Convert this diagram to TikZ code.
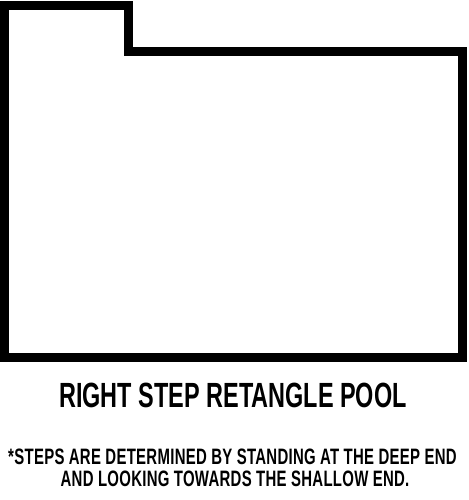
\documentclass[tikz,border=0pt]{standalone}
\usepackage{fontspec}
\setmainfont{Liberation Sans}[FakeStretch=0.67]
\usetikzlibrary{positioning}

\begin{document}
\begin{tikzpicture}[x=1pt,y=-1pt]
	\useasboundingbox (0,0) rectangle (468,500);

	% pool outline, step in the top left corner
	\draw[line width=9pt,line join=miter] (4.5,6) -- (128,6) -- (128,52) -- (462,52) -- (462,357) -- (4.5,357) -- cycle;

	\node[inner sep=0pt,font=\bfseries\fontsize{35}{40}\selectfont] (title) at (233,395.5) {RIGHT STEP RETANGLE POOL};

	\node[inner sep=0pt,font=\bfseries\fontsize{22.3}{26}\selectfont\addfontfeature{LetterSpace=1.3}] (note1) at (232.5,456.5) {*STEPS ARE DETERMINED BY STANDING AT THE DEEP END};
	\node[inner sep=0pt,font=\bfseries\fontsize{22.3}{26}\selectfont\addfontfeature{LetterSpace=1.3}] (note2) at (235,478.5) {AND LOOKING TOWARDS THE SHALLOW END.};

\end{tikzpicture}
\end{document}
